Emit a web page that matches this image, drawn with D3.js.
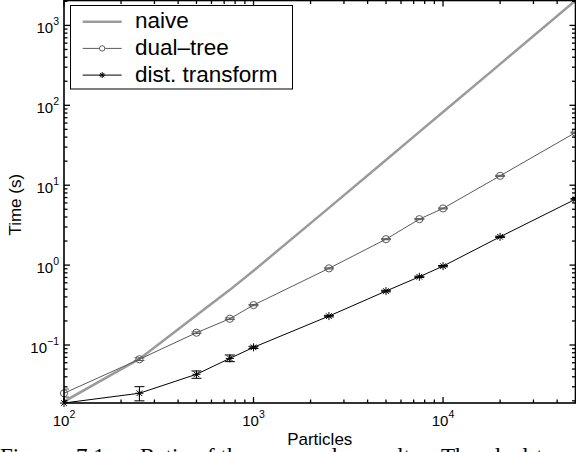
<!DOCTYPE html>
<html>
<head>
<meta charset="utf-8">
<script src="https://cdn.jsdelivr.net/npm/d3@7"></script>
<style>
  html, body { margin: 0; padding: 0; background: #fff; overflow: hidden; }
  svg { display: block; }
</style>
</head>
<body>
<svg id="chart" width="576" height="452"></svg>
<script>
// Problem sizes (number of particles)
const particles = [100, 250, 500, 750, 1000, 2500, 5000, 7500, 10000, 20000, 50000];

// Running times in seconds
const naiveTime    = [0.0196, 0.067, 0.235, 0.49, 0.85, 5.2, 20.7, 46.5, 82.5, 328, 2050];
const dualTreeTime = [0.0249, 0.0663, 0.1425, 0.213, 0.316, 0.91, 2.11, 3.76, 5.12, 13.1, 45.6];
const dualTreeLow  = [0.0223, 0.0640, 0.139, 0.208, 0.310, 0.895, 2.08, 3.70, 5.05, 12.9, 45.0];
const dualTreeHigh = [0.0281, 0.0690, 0.146, 0.218, 0.322, 0.925, 2.14, 3.82, 5.19, 13.3, 46.2];
const distTime     = [0.0188, 0.0249, 0.043, 0.068, 0.0935, 0.230, 0.473, 0.714, 0.97, 2.26, 6.68];
const distLow      = [0.0186, 0.0200, 0.0383, 0.0619, 0.0905, 0.225, 0.462, 0.700, 0.950, 2.22, 6.55];
const distHigh     = [0.0190, 0.0301, 0.0473, 0.0750, 0.0965, 0.235, 0.484, 0.728, 0.990, 2.30, 6.81];

// Decade exponents that carry tick labels
const xTickExponents = [2, 3, 4];
const yTickExponents = [-1, 0, 1, 2, 3];

const seriesNames = ["naive", "dual\u2013tree", "dist. transform"];
const xTitle = "Particles";
const yTitle = "Time (s)";
const captionWords = [["Figure", 0], ["7.1:", 76], ["Ratio of the averaged", 140], ["results.", 359], ["The", 441], ["dual-tree", 489]];

const W = 576, H = 452;
const plot = { left: 64, right: 575.5, top: 0.5, bottom: 403 };
const sans = "'Liberation Sans', Arial, Helvetica, sans-serif";

const svg = d3.select("#chart");

const x = d3.scaleLog()
  .domain(d3.extent(particles))
  .range([plot.left, plot.right]);

const y = d3.scaleLog()
  .domain(d3.extent(naiveTime.concat(dualTreeTime, distTime)))
  .range([plot.bottom, plot.top]);

const colNaive = "#9b9b9b";
const colDual = "#5a5a5a";
const colDist = "#000";

// Clip region for lines and error bars
svg.append("defs").append("clipPath").attr("id", "plotClip")
  .append("rect")
  .attr("x", plot.left).attr("y", plot.top)
  .attr("width", plot.right - plot.left).attr("height", plot.bottom - plot.top);

const data = svg.append("g");
const clipped = data.append("g").attr("clip-path", "url(#plotClip)");

const line = d3.line().x(d => x(d[0])).y(d => y(d[1]));

function starPath(cx, cy, r) {
  const p = d3.path();
  [0, 45, 90, 135].forEach(a => {
    const t = a * Math.PI / 180;
    p.moveTo(cx - r * Math.cos(t), cy - r * Math.sin(t));
    p.lineTo(cx + r * Math.cos(t), cy + r * Math.sin(t));
  });
  return p.toString();
}

// naive
clipped.append("path")
  .attr("d", line(particles.map((p, i) => [p, naiveTime[i]])))
  .attr("fill", "none").attr("stroke", colNaive).attr("stroke-width", 2.5)
  .attr("stroke-linejoin", "round");

function errorSeries(vals, lo, hi, color) {
  clipped.append("path")
    .attr("d", line(particles.map((p, i) => [p, vals[i]])))
    .attr("fill", "none").attr("stroke", color).attr("stroke-width", 1);
  const cap = 5;
  const eb = clipped.append("g").attr("stroke", color).attr("stroke-width", 1).attr("fill", "none");
  particles.forEach((p, i) => {
    const cx = x(p);
    eb.append("line").attr("x1", cx).attr("x2", cx).attr("y1", y(lo[i])).attr("y2", y(hi[i]));
    eb.append("line").attr("x1", cx - cap).attr("x2", cx + cap).attr("y1", y(lo[i])).attr("y2", y(lo[i]));
    eb.append("line").attr("x1", cx - cap).attr("x2", cx + cap).attr("y1", y(hi[i])).attr("y2", y(hi[i]));
  });
}

errorSeries(dualTreeTime, dualTreeLow, dualTreeHigh, colDual);
errorSeries(distTime, distLow, distHigh, colDist);

// markers
data.append("g").selectAll("circle").data(particles).join("circle")
  .attr("cx", d => x(d)).attr("cy", (d, i) => y(dualTreeTime[i])).attr("r", 3.6)
  .attr("fill", "none").attr("stroke", colDual).attr("stroke-width", 1);

data.append("g").selectAll("path").data(particles).join("path")
  .attr("d", (d, i) => starPath(x(d), y(distTime[i]), 4))
  .attr("fill", "none").attr("stroke", colDist).attr("stroke-width", 1);

// Axes box with inward ticks on all four sides
const axes = svg.append("g").attr("stroke", "#000").attr("stroke-width", 1.3).attr("fill", "none");
const isMajor = t => Math.abs(Math.log10(t) - Math.round(Math.log10(t))) < 1e-9;
const majorLen = 6, minorLen = 3.5;

x.ticks().forEach(t => {
  const px = x(t), len = isMajor(t) ? majorLen : minorLen;
  axes.append("line").attr("x1", px).attr("x2", px).attr("y1", plot.bottom).attr("y2", plot.bottom - len);
  axes.append("line").attr("x1", px).attr("x2", px).attr("y1", plot.top).attr("y2", plot.top + len);
});
y.ticks().forEach(t => {
  const py = y(t), len = isMajor(t) ? majorLen : minorLen;
  axes.append("line").attr("y1", py).attr("y2", py).attr("x1", plot.left).attr("x2", plot.left + len);
  axes.append("line").attr("y1", py).attr("y2", py).attr("x1", plot.right).attr("x2", plot.right - len);
});
axes.append("rect")
  .attr("x", plot.left).attr("y", plot.top)
  .attr("width", plot.right - plot.left).attr("height", plot.bottom - plot.top)
  .attr("stroke-width", 1.6);

// Tick labels
const fmtExp = e => (e < 0 ? "\u2212" + Math.abs(e) : String(e));

const xl = svg.append("g").attr("font-family", sans).attr("fill", "#000");
xTickExponents.forEach(e => {
  const t = xl.append("text").attr("x", x(Math.pow(10, e))).attr("y", 426)
    .attr("text-anchor", "middle").attr("font-size", 15);
  t.append("tspan").text("10");
  t.append("tspan").attr("dy", -8).attr("font-size", 10.5).text(fmtExp(e));
});

const yl = svg.append("g").attr("font-family", sans).attr("fill", "#000");
yTickExponents.forEach(e => {
  const t = yl.append("text").attr("x", 59).attr("y", y(Math.pow(10, e)) + 7.5)
    .attr("text-anchor", "end").attr("font-size", 15);
  t.append("tspan").text("10");
  t.append("tspan").attr("dy", -8).attr("font-size", 10.5).text(fmtExp(e));
});

// Axis titles
svg.append("text").attr("x", (plot.left + plot.right) / 2).attr("y", 445)
  .attr("text-anchor", "middle").attr("font-family", sans).attr("font-size", 17).text(xTitle);
svg.append("text").attr("transform", `translate(21,${(plot.top + plot.bottom) / 2 + 3}) rotate(-90)`)
  .attr("text-anchor", "middle").attr("font-family", sans).attr("font-size", 17).text(yTitle);

// Legend
const lg = svg.append("g");
lg.append("rect").attr("x", 70.5).attr("y", 5.5).attr("width", 222).attr("height", 83.5)
  .attr("fill", "#fff").attr("stroke", "#000").attr("stroke-width", 1);
const rowY = [21.7, 48.4, 75.1];
const lx1 = 82.7, lx2 = 121.7, lmid = (lx1 + lx2) / 2;
lg.append("line").attr("x1", lx1).attr("x2", lx2).attr("y1", rowY[0]).attr("y2", rowY[0])
  .attr("stroke", colNaive).attr("stroke-width", 2.5);
lg.append("line").attr("x1", lx1).attr("x2", lx2).attr("y1", rowY[1]).attr("y2", rowY[1])
  .attr("stroke", colDual).attr("stroke-width", 1);
lg.append("circle").attr("cx", lmid).attr("cy", rowY[1]).attr("r", 2.7)
  .attr("fill", "#fff").attr("stroke", colDual).attr("stroke-width", 1);
lg.append("line").attr("x1", lx1).attr("x2", lx2).attr("y1", rowY[2]).attr("y2", rowY[2])
  .attr("stroke", colDist).attr("stroke-width", 1);
lg.append("path").attr("d", starPath(lmid, rowY[2], 3)).attr("stroke", colDist).attr("stroke-width", 1);
seriesNames.forEach((n, i) => {
  lg.append("text").attr("x", 135).attr("y", rowY[i] + 6.7)
    .attr("font-family", sans).attr("font-size", 22.5).text(n);
});

// Caption line beneath the figure
const cap = svg.append("g").attr("font-family", "'Liberation Serif', 'Times New Roman', serif")
  .attr("font-size", 23).attr("fill", "#000");
captionWords.forEach(([w, cx]) => cap.append("text").attr("x", cx).attr("y", 463.5).text(w));
</script>
</body>
</html>
